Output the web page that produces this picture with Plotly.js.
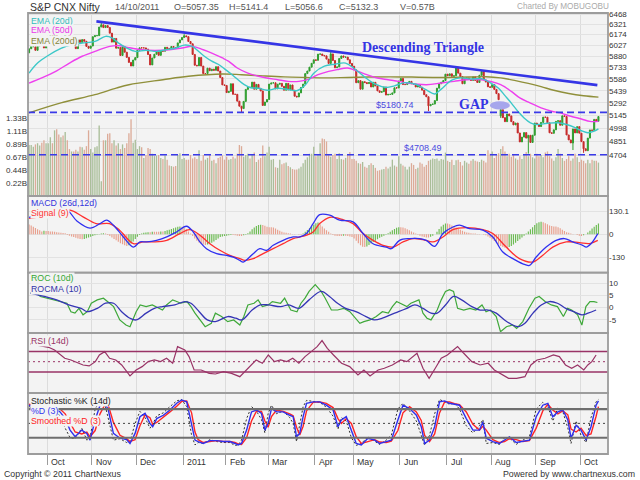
<!DOCTYPE html>
<html><head><meta charset="utf-8">
<script src="https://cdn.plot.ly/plotly-3.0.1.min.js"></script>
<style>html,body{margin:0;padding:0;background:#fff}#chart{width:640px;height:480px}</style>
</head><body><div id="chart"></div>
<script>
// ---------- DATA (trading-day index 0 = 20 Sep 2010 ... 268 = 14 Oct 2011) ----------
const closes = [
5980,6009,6009,5959,6018,6035,6029,5991,6030,
6143,6159,6145,6186,6120,6103,6135,6090,6233,6177,6062,6075,6027,5982,6101,6066,6105,6082,6012,5987,6017,
6145,6160,6160,6281,6312,6273,6301,6275,6194,6071,6121,5988,5998,5890,6010,5934,5865,5799,5752,5830,5862,
5960,5993,5992,5992,5976,5903,5766,5857,5907,5944,5892,5948,5947,6000,5985,5980,6011,5998,5996,6060,6101,6134,
6157,6146,6079,6048,5904,5762,5754,5863,5751,5654,5654,5724,5691,5711,5696,5743,5687,5604,5512,5505,
5417,5432,5526,5396,5396,5313,5253,5225,5310,5456,5482,5481,5546,5458,5518,5469,5437,5262,5303,5333,
5522,5536,5538,5463,5520,5531,5494,5446,5531,5449,5511,5446,5373,5364,5413,5480,5522,5654,5687,5737,5787,5833,
5826,5908,5910,5891,5885,5842,5785,5911,5824,5729,5740,5851,5884,5868,5869,5833,5785,5749,
5702,5539,5565,5459,5552,5541,5528,5541,5486,5544,5499,5438,5420,5428,5486,5387,5395,5395,5413,5476,5473,5560,
5592,5516,5516,5532,5556,5526,5521,5486,5508,5482,5447,5391,5366,5257,5275,5278,5320,5471,5526,5545,5567,5647,
5627,5651,5619,5626,5728,5660,5617,5526,5585,5599,5581,5568,5613,5567,5542,5633,5680,5574,5547,5488,5482,
5516,5456,5404,5331,5212,5119,5073,5162,5139,5073,5036,5057,4945,4846,4899,4949,4888,4919,4840,4920,5057,
5040,5017,5064,5125,5124,5059,4947,4941,4980,5076,5084,5032,5140,5133,4923,4868,4835,4990,4946,5016,4943,
4849,4772,4751,4888,4979,4974,5099,5077,5132];
const openFixIdx = [0, 222];
const openFixVal = [5925, 5140];
const lowFixIdx = [100, 188, 222, 235, 256, 261];
const lowFixVal = [5178, 5196, 5116, 4720, 4758, 4728];
const highFixIdx = [34, 73, 142, 201, 222];
const highFixVal = [6338, 6181, 5944, 5740, 5251];

const volumesB = [
0.87,0.87,0.84,0.88,0.90,0.86,0.91,0.95,0.90,
0.90,1.00,0.90,1.12,1.14,1.05,1.00,1.03,1.09,0.95,0.80,0.76,0.76,0.79,0.76,0.84,0.83,0.79,0.85,1.12,0.80,
0.74,0.83,0.85,1.20,0.25,0.95,0.95,1.06,1.07,0.90,0.95,0.86,0.90,0.80,0.88,0.82,0.90,1.07,1.31,0.91,0.96,
0.80,0.85,0.83,0.65,0.70,0.82,0.80,0.72,0.68,0.69,0.70,0.65,0.63,0.69,0.62,0.52,0.51,0.50,0.51,0.70,0.73,0.63,
0.65,0.62,0.62,0.70,0.64,0.66,0.63,0.78,0.60,0.70,0.62,0.65,0.70,0.60,0.62,0.56,0.65,0.67,0.69,0.62,
0.67,0.62,0.63,0.67,0.64,0.72,0.87,0.85,0.67,0.70,0.72,0.64,0.70,0.74,0.58,0.62,0.65,0.86,0.68,0.74,
0.84,0.62,0.63,0.49,0.48,0.62,0.54,0.56,0.57,0.51,0.49,0.46,0.45,0.45,0.47,0.50,0.56,0.62,0.66,0.72,0.72,0.84,
0.68,0.70,0.90,0.98,0.97,0.93,0.70,0.67,0.70,0.72,0.63,0.73,0.63,0.62,0.65,0.71,0.75,0.63,
0.63,0.60,0.56,0.55,0.58,0.50,0.48,0.53,0.56,0.53,0.48,0.43,0.44,0.45,0.46,0.50,0.47,0.50,0.62,0.52,0.50,0.68,
0.55,0.52,0.50,0.45,0.50,0.56,0.53,0.46,0.48,0.57,0.55,0.50,0.53,0.60,0.62,0.64,0.63,0.64,0.60,0.63,0.62,0.74,
0.60,0.58,0.62,0.53,0.61,0.62,0.58,0.52,0.60,0.57,0.55,0.60,0.63,0.60,0.59,0.58,0.62,0.60,0.57,0.78,0.72,
0.76,0.65,0.70,0.73,0.80,0.85,0.76,0.68,0.72,0.67,0.70,0.64,0.62,0.68,0.63,0.70,0.75,0.68,0.72,0.66,0.64,
0.72,0.68,0.70,0.66,0.74,0.76,0.68,0.64,0.60,0.66,0.80,0.72,0.65,0.60,0.63,0.68,0.60,0.64,0.72,0.66,0.58,
0.62,0.60,0.56,0.62,0.56,0.62,0.60,0.60,0.57];

const ema20X = [0,4,9,15,20,25,31,36,39,42,46,50,55,60,64,69,73,77,80,83,86,89,92,96,100,104,108,112,117,122,126,130,134,139,144,149,153,158,163,168,172,177,182,187,191,194,199,203,208,213,217,221,224,227,230,233,236,239,244,249,253,257,260,263,266,268];
const ema20V = [5661,5790,5890,5985,6035,6058,6080,6150,6130,6060,5990,5945,5960,5945,5965,5990,6030,6010,5940,5870,5815,5775,5715,5630,5540,5480,5470,5445,5470,5455,5440,5510,5660,5750,5775,5790,5720,5610,5520,5480,5500,5540,5520,5450,5400,5460,5570,5600,5585,5590,5540,5470,5380,5290,5195,5115,5060,5040,5055,5060,5040,5005,4970,4948,4965,4990];
const ema50X = [0,6,13,19,25,31,38,43,47,53,59,66,72,77,82,86,91,94,98,103,108,112,117,122,127,131,136,141,145,150,155,159,164,169,174,178,187,194,200,206,213,217,222,227,231,236,241,246,250,255,260,264,268];
const ema50V = [5535,5600,5690,5790,5880,5945,6013,6020,5995,5967,5959,5967,5991,6013,5967,5923,5857,5813,5726,5661,5620,5598,5577,5556,5556,5577,5640,5682,5705,5726,5682,5640,5598,5577,5556,5535,5514,5535,5556,5577,5577,5556,5514,5432,5352,5291,5233,5193,5174,5135,5104,5076,5076];
const ema200X = [0,15,31,41,47,63,75,91,100,110,120,130,140,150,160,170,180,190,197,207,215,222,229,235,241,247,254,261,268];
const ema200V = [5175,5292,5392,5472,5514,5577,5620,5649,5640,5625,5612,5605,5600,5605,5610,5612,5610,5605,5605,5610,5615,5600,5565,5530,5490,5445,5405,5378,5362];

const trendIdx = [31.7, 267.5];
const trendPrice = [6362, 5509];
const supportLevels = [5180.74, 4708.49];
const supportLabelIdx = [172.3, 185.5];

const macdX = [0,6,12,17.8,22.5,28.7,33.4,36.5,39.7,44.4,49.1,52.2,55.4,60,64.8,69.4,74.1,77.3,80.4,83.5,88.3,93,96.1,99.2,100.8,105.5,108.6,111.8,114.9,119.6,124.3,127.4,130.6,133.7,136.8,141.5,146.2,152.5,157.2,161.9,168.1,170.5,174.4,179.1,183.8,187,190.9,194.8,199.5,202.6,207.3,213.6,218.3,223,227.7,232.4,235.5,238.7,243.4,248.1,252,255.9,260.6,262.2,264.5,267.7];
const macdV = [95,112,128,136,75,35,60,79,51,-15,-72,-43,-43,-34,-15,13,45,13,-43,-81,-109,-119,-128,-147,-156,-109,-81,-90,-62,-34,-15,-15,4,60,110,107,79,70,4,-53,-72,-81,-34,-24,-24,-34,-68,4,41,51,32,23,-15,-100,-137,-166,-175,-128,-72,-34,-24,-43,-62,-72,-53,4];
const signalX = [0,6,12,19.3,25.4,31.6,37.9,42.6,49.1,53.8,58.5,64.8,71,75.7,80.4,85.1,89.8,94.5,99.2,101.6,105.5,110.2,114.9,119.6,124.3,129,133.7,136.8,141.5,147.8,152.5,157.2,161.9,166.6,171.3,176,180.7,185.4,190.1,194.8,199.5,205.8,213.6,218.3,224.6,230.8,237.1,241.8,246.5,252.8,259,263.8,267.7];
const signalV = [89,100,118,136,98,60,60,23,-53,-43,-43,-34,4,26,-5,-53,-90,-119,-137,-147,-137,-109,-81,-53,-24,-11,13,60,95,82,60,4,-34,-62,-72,-43,-24,-30,-43,-15,26,37,26,4,-72,-137,-156,-118,-72,-43,-47,-52,-34];
const macdHist = [55,50,42,35,28,22,16,
20,18,18,16,15,14,12,10,8,7,6,
-4,-8,-12,-16,-20,-24,-26,-28,-26,-22,-18,
-14,-10,-6,-2,2,4,6,4,
-4,-10,-18,-26,-34,-42,-50,-56,-62,-66,-62,-52,-40,
-26,-14,-4,4,8,10,12,12,14,14,14,14,16,16,
18,22,26,30,34,38,42,44,42,36,28,
16,4,-10,-24,-36,-46,-54,-58,-60,-58,-54,-48,-40,-32,-24,-16,
-12,-10,-8,-6,-4,-4,-6,-8,-10,-10,-6,-2,6,
16,28,38,46,52,54,52,48,42,40,40,38,32,26,20,
14,10,8,6,4,2,2,0,-2,-2,
4,14,24,34,44,54,62,66,
56,44,32,22,14,
4,-4,-8,-10,-10,-10,-8,-8,-10,-12,-16,
-24,-36,-50,-62,-70,-72,-68,-60,-52,-44,-36,-28,-20,-14,
-8,-2,6,14,22,30,36,40,40,38,34,28,22,16,
10,4,-2,-8,-12,-16,-18,-18,-14,-8,
0,14,30,44,54,60,60,56,50,44,38,32,26,20,14,
10,8,6,4,4,2,2,0,-2,-6,-12,-20,-28,
-38,-48,-58,-66,-72,-76,-76,-72,-66,-58,-48,-38,-28,-18,
-8,4,16,28,40,52,62,68,70,68,62,56,50,46,44,44,40,34,
26,18,12,8,4,2,0,-4,-8,-10,-6,0,
10,20,32,42,52,60];

const rocX = [0.5,3.4,5.3,8.2,11.1,14.9,17.8,19.7,21.6,23.5,25.4,27.4,29.3,32.1,35,36.9,39.8,42.7,45.6,47.5,50.4,52.3,55.1,58,60.9,62.8,64.7,67.6,69.5,71.4,74.3,76.2,78.1,81,82.9,85.8,87.7,90.6,93.5,96.3,99.2,101.1,103,105.9,107.8,109.8,112.6,114.5,118.4,120.3,123.2,126.1,128,129.9,131.8,134.7,137.5,139.4,142.3,145.2,148.1,151,153.8,155.7,157.6,160.5,163.4,166.3,169.1,171,173,175.8,177.8,179.7,181.6,183.5,185.4,187.3,189.2,192.1,194,196,197.9,199.8,201.7,204.6,207.5,210.3,213.2,215.1,217.1,219.9,221.9,224.7,227.6,229.5,232.4,235.3,238.1,240.1,242.9,245.8,248.7,251.5,253.5,255.4,258.2,260.2,262.1,264,265.9,267.5];
const rocV = [6.0,6.0,4.6,3.9,3.2,2.5,1.8,-1.7,-2.3,-0.3,-3.0,-1.7,1.8,3.2,3.9,2.5,0.4,-5.1,-7.2,-7.9,-1.7,1.1,0.4,1.1,-0.3,-1.0,1.1,3.2,2.5,1.8,2.5,0.4,-2.3,-5.8,-7.9,-6.5,-2.3,-3.7,-5.8,-5.1,-7.2,-3.7,1.1,1.8,3.2,0.4,1.1,2.5,1.8,3.9,-1.0,-1.7,1.8,3.9,6.7,9.5,6.7,3.9,-1.0,-1.0,-0.3,-1.7,-4.4,-6.5,-5.8,-5.1,-3.7,-1.7,-2.3,0.4,2.5,1.1,0.4,1.8,2.5,3.2,-2.3,-4.4,-5.1,-1.0,3.2,6.7,7.4,6.7,-0.3,-1.0,-0.3,-1.0,1.1,-1.7,-1.0,-3.7,-10.0,-7.9,-7.2,-8.6,-5.8,-0.3,3.9,4.6,2.5,1.1,0.4,-3.7,-0.3,-1.0,-3.0,-7.2,0.4,2.5,2.5,2.1];
const rocmaX = [0.5,7.2,13,18.7,24.5,27.4,32.1,36,39.8,43.6,47.5,50.4,55.1,59,62.8,68.6,73.3,76.2,80.1,83.9,87.7,93.5,97.3,100.2,105,108.8,112.6,118.4,122.2,127,131.8,137.5,141.4,145.2,149,153.8,158.6,162.4,166.3,170.1,173.9,177.8,181.6,185.4,189.2,192.1,196,199.8,203.6,208.4,212.3,216.1,219.9,223.8,227.6,230.5,233.4,237.2,241.1,244.9,248.7,252.6,256.4,260.2,263.1,266.9];
const rocmaV = [6.0,4.6,3.2,1.1,-0.3,-1.7,-0.3,1.8,1.8,-1.7,-4.4,-5.1,-2.3,-0.3,0.4,1.1,2.5,1.8,-1.7,-5.1,-5.8,-3.7,-4.4,-5.1,-1.0,1.1,1.1,0.4,1.1,-0.3,3.2,6.7,4.6,1.8,-0.3,-1.7,-3.7,-5.1,-4.4,-3.0,-1.7,-0.3,1.1,-0.3,-2.3,-2.3,1.1,4.6,3.2,0.4,-1.0,-1.0,-2.3,-5.1,-7.2,-7.9,-6.5,-2.3,1.1,2.5,1.8,-0.3,-1.7,-3.0,-2.3,-1.0];

const rsiX = [0.5,3.4,6.3,9.2,12,14.9,16.8,19.7,22.6,25.4,28.3,31.2,33.1,35.6,37.9,40.8,43.6,47.5,50.4,53.2,56.1,59,61.9,64.7,67.6,69.9,73.3,75.3,77.7,81,84.8,87.7,91.5,95.3,99.2,102.1,105,106.9,109.8,112.6,115.5,118.4,121.3,124.1,127,129.9,132.8,135.6,137.9,140.4,143.3,147.1,150.9,154.8,157.6,160.5,164.3,167.2,171,174.9,177.8,180.6,182.6,185.4,188.3,191.2,194,196.9,199.8,201.7,204.6,208.4,212.3,216.1,219,221.9,225.7,229.5,233.4,236.2,239.1,242.9,246.8,249.6,252.5,255.4,258.2,261.1,263,264.9,266.9];
const rsiV = [84.4,82.4,79.2,77.9,72.7,63.0,56.6,53.3,48.2,43.6,41.7,50.1,63.0,69.5,56.6,53.3,43.6,22.3,33.9,40.4,50.1,53.3,50.1,56.6,46.9,79.2,72.7,59.8,33.9,33.9,27.4,26.1,30.7,27.4,20.9,33.9,46.9,53.3,46.9,63.0,50.1,53.3,50.1,56.6,46.9,59.8,69.5,79.2,90.9,76.0,63.0,46.9,40.4,24.2,33.9,22.3,33.9,37.2,43.6,53.3,50.1,59.8,66.3,37.2,17.8,37.2,56.6,63.0,72.7,79.2,66.3,50.1,43.6,46.9,33.9,27.4,17.8,17.8,20.9,43.6,53.3,56.6,63.0,59.8,43.6,37.2,43.6,33.9,43.6,50.1,63.0];
const rsiLevels = [70, 30];
const rsiMid = 50;

const stochX = [0,5,10,14.6,17,19.3,21.7,24.8,27.2,28.7,31.1,33.4,35.8,37.3,39.7,42.8,45.9,47.5,49.9,52.2,54.6,56.9,58.2,60.1,63.2,66.3,69.5,71.8,74.2,76.5,78.1,79.6,82,85.1,88.3,91.4,94.5,96.9,98.4,100,102.4,104.7,107.1,109.4,111,112.5,114.1,116.5,119.6,122.7,124.3,125.9,127.4,129,130.6,133.7,136.8,139.9,143.1,145.4,147,149.3,151.7,154,156.4,159.5,162.7,165,168.1,170.5,173.6,176,179.1,182.3,184.6,186.2,188.5,190.9,193.2,195.6,197.9,200.3,202.6,205.8,208.9,212,213.6,215.2,218.3,221.4,223.8,226.1,229.3,232.4,235.5,238.7,241.8,244.2,246.5,248.9,251.2,253.6,255.1,257.5,259.8,262.2,264.5,266.9,268];
const stochK = [85,78,90,65,40,20,18,40,15,20,80,98,88,60,15,18,10,12,50,75,62,40,48,66,72,85,97,100,85,25,5,10,8,16,12,10,10,4,5,15,60,85,75,58,30,70,88,70,76,62,50,12,45,85,98,96,94,84,65,38,62,55,20,4,8,22,12,6,15,25,80,92,76,55,25,4,25,70,100,95,90,92,80,45,30,45,58,8,10,6,20,20,6,15,22,80,94,85,55,82,75,40,8,55,25,10,62,95,100];
const stochD = [88,82,86,74,60,36,22,36,29,15,57,88,92,78,29,19,16,8,29,64,71,50,43,60,67,78,92,99,95,50,15,12,8,14,14,12,12,8,5,8,36,74,78,71,36,50,81,74,74,67,64,22,29,64,92,95,95,88,78,43,57,64,36,8,5,19,15,8,12,15,57,88,81,67,43,8,15,43,95,97,92,90,88,60,36,36,53,19,12,8,15,22,10,13,15,64,88,92,64,74,78,57,19,46,36,15,43,88,97];
const stochSD = [90,85,84,80,70,52,32,28,32,22,35,70,90,88,52,25,18,12,16,45,68,62,48,52,64,74,86,96,97,72,32,16,10,12,14,12,12,10,7,6,20,55,76,75,55,42,64,78,75,70,66,42,26,44,76,94,95,92,83,60,50,60,50,22,8,12,16,11,10,13,35,72,85,74,56,25,12,28,72,95,95,91,89,74,48,36,44,36,16,10,12,18,16,12,14,40,76,90,78,70,76,68,38,32,40,25,28,65,85];
const stochLevels = [80, 20];
const stochMid = 50;

const monthStartIdx = [9,30,51,73,93,113,135,153,175,197,218,239,260];
const monthLabels = ['Oct','Nov','Dec','2011','Feb','Mar','Apr','May','Jun','Jul','Aug','Sep','Oct'];
const priceTicks = [4704,4851,4998,5145,5292,5439,5586,5733,5880,6027,6174,6321,6468];
const volTicks = [0.22,0.44,0.67,0.89,1.11,1.33];
const macdTicks = [130.1,0,-130];
const rocTicks = [10,5,0,-5];

// ---------- BUILD ----------
const FONT = 'Liberation Sans, Arial, sans-serif';
const BG = '#f3f3f3';
const idx = closes.map((_, i) => i);
const opens = closes.map((c, i) => i === 0 ? c : closes[i - 1]);
openFixIdx.forEach((k, j) => { opens[k] = openFixVal[j]; });
const highs = closes.map((c, i) => Math.max(c, opens[i]));
const lows = closes.map((c, i) => Math.min(c, opens[i]));
lowFixIdx.forEach((k, j) => { lows[k] = lowFixVal[j]; });
highFixIdx.forEach((k, j) => { highs[k] = highFixVal[j]; });
const volColors = closes.map((c, i) => c >= opens[i] ? '#a9bd98' : '#dcab98');
const histColors = macdHist.map((h, i) => (i > 0 && h > macdHist[i - 1]) ? '#6cbb52' : '#e8a08e');
const xRange = [-0.5, 272.5];

const traces = [
  {type:'bar', x:idx, y:volumesB, xaxis:'x', yaxis:'y', width:0.62,
   marker:{color:volColors, line:{width:0}}, hoverinfo:'skip'},
  {type:'candlestick', x:idx, open:opens, high:highs, low:lows, close:closes, xaxis:'x', yaxis:'y2',
   whiskerwidth:0,
   increasing:{line:{color:'#2f9e2f', width:1}, fillcolor:'#2f9e2f'},
   decreasing:{line:{color:'#c62a2a', width:1}, fillcolor:'#c62a2a'}, hoverinfo:'skip'},
  {type:'scatter', mode:'lines', x:ema200X, y:ema200V, xaxis:'x', yaxis:'y2', line:{color:'#8f8f3a', width:1.4, shape:'spline'}},
  {type:'scatter', mode:'lines', x:ema50X, y:ema50V, xaxis:'x', yaxis:'y2', line:{color:'#ee3fee', width:1.4, shape:'spline'}},
  {type:'scatter', mode:'lines', x:ema20X, y:ema20V, xaxis:'x', yaxis:'y2', line:{color:'#3cc8c8', width:1.4, shape:'spline'}},
  {type:'scatter', mode:'lines', x:trendIdx, y:trendPrice, xaxis:'x', yaxis:'y2', line:{color:'#3535e6', width:2.6}},
];
supportLevels.forEach(lv => traces.push({type:'scatter', mode:'lines', x:xRange, y:[lv, lv], xaxis:'x', yaxis:'y2',
  line:{color:'#3a3ae8', width:1.6, dash:'7px,4px'}}));
traces.push(
  {type:'bar', x:idx, y:macdHist, xaxis:'x', yaxis:'y3', width:0.55, marker:{color:histColors, line:{width:0}}},
  {type:'scatter', mode:'lines', x:signalX, y:signalV, xaxis:'x', yaxis:'y3', line:{color:'#ff2f2f', width:1.3, shape:'spline'}},
  {type:'scatter', mode:'lines', x:macdX, y:macdV, xaxis:'x', yaxis:'y3', line:{color:'#3030f0', width:1.3, shape:'spline'}},
  {type:'scatter', mode:'lines', x:rocX, y:rocV, xaxis:'x', yaxis:'y4', line:{color:'#3fa83a', width:1.2}},
  {type:'scatter', mode:'lines', x:rocmaX, y:rocmaV, xaxis:'x', yaxis:'y4', line:{color:'#3535b5', width:1.3, shape:'spline'}},
  {type:'scatter', mode:'lines', x:rsiX, y:rsiV, xaxis:'x', yaxis:'y5', line:{color:'#993366', width:1.2}},
  {type:'scatter', mode:'lines', x:stochX, y:stochK, xaxis:'x', yaxis:'y6', line:{color:'#333', width:1, dash:'2px,2px'}},
  {type:'scatter', mode:'lines', x:stochX, y:stochSD, xaxis:'x', yaxis:'y6', line:{color:'#ff2525', width:1.4}},
  {type:'scatter', mode:'lines', x:stochX, y:stochD, xaxis:'x', yaxis:'y6', line:{color:'#2f2fee', width:1.4}}
);

const panels = [[0.585,1],[0.4115,0.585],[0.2744,0.4115],[0.1383,0.2744],[0,0.1383]];
const shapes = [];
rsiLevels.forEach(v => shapes.push({type:'line', xref:'paper', x0:0, x1:1, yref:'y5', y0:v, y1:v, line:{color:'#993366', width:1.5}}));
shapes.push({type:'line', xref:'paper', x0:0, x1:1, yref:'y5', y0:rsiMid, y1:rsiMid, line:{color:'#993366', width:1, dash:'2px,3px'}});
stochLevels.forEach(v => shapes.push({type:'line', xref:'paper', x0:0, x1:1, yref:'y6', y0:v, y1:v, line:{color:'#6e6e6e', width:2.2}}));
shapes.push({type:'line', xref:'paper', x0:0, x1:1, yref:'y6', y0:stochMid, y1:stochMid, line:{color:'#444', width:1, dash:'2px,3px'}});
panels.forEach(d => shapes.push({type:'rect', xref:'paper', yref:'paper', x0:0, x1:1, y0:d[0], y1:d[1], line:{color:'#9c9c9c', width:1.8}, fillcolor:'rgba(0,0,0,0)'}));
const py = p => 1 - (p - 13) / 441;
const pxp = p => (p - 28) / 580;
shapes.push({type:'circle', xref:'x', yref:'paper', x0:216.9, x1:226.3, y0:py(109.5), y1:py(101.3), fillcolor:'#a6a6ec', line:{width:0}});

function txt(text, xpx, ypx, color, size, opts) {
  return Object.assign({text, xref:'paper', yref:'paper', x:pxp(xpx), y:py(ypx), xanchor:'left', yanchor:'middle',
    showarrow:false, font:{family:FONT, size:size, color:color}}, opts || {});
}
const legendBox = {bgcolor:BG, borderpad:0};
const annotations = [
  txt('S&amp;P CNX Nifty', 28, 6.5, '#333', 10.5),
  txt('14/10/2011', 113, 6.5, '#555', 9),
  txt('O=5057.35', 172, 6.5, '#555', 9),
  txt('H=5141.4', 227, 6.5, '#555', 9),
  txt('L=5056.6', 283, 6.5, '#555', 9),
  txt('C=5132.3', 337, 6.5, '#555', 9),
  txt('V=0.57B', 398, 6.5, '#555', 9),
  txt('Charted By MOBUGOBU', 515, 6, '#aaaaaa', 8.2),
  txt('EMA (20d)', 30, 20.5, '#33bcbc', 8.8, legendBox),
  txt('EMA (50d)', 30, 30.5, '#ea38ea', 8.8, legendBox),
  txt('EMA (200d)', 30, 40.5, '#85853a', 8.8, legendBox),
  txt('MACD (26d,12d)', 30, 203, '#3333dd', 8.8, legendBox),
  txt('Signal (9)', 30, 213, '#ff3333', 8.8, legendBox),
  txt('ROC (10d)', 30, 277.5, '#33a833', 8.8, legendBox),
  txt('ROCMA (10)', 30, 288.5, '#3333aa', 8.8, legendBox),
  txt('RSI (14d)', 30, 340.5, '#993366', 8.8, legendBox),
  txt('Stochastic %K (14d)', 30, 400.5, '#222', 8.8, legendBox),
  txt('%D (3)', 30, 410.5, '#3333ee', 8.8, legendBox),
  txt('Smoothed %D (3)', 30, 420.5, '#ff2222', 8.8, legendBox),
  txt('Copyright © 2011 ChartNexus', 2, 474, '#333', 8.8),
  txt('Powered by www.chartnexus.com', 637, 474, '#333', 8.8, {xanchor:'right'}),
  {text:'<b>Descending Triangle</b>', xref:'x', yref:'y2', x:185.4, y:Math.log10(6004), showarrow:false,
   font:{family:'Liberation Serif, Times New Roman, serif', size:14, color:'#3434e4'}},
  {text:'<b>GAP</b>', xref:'x', yref:'y2', x:209.4, y:Math.log10(5279), showarrow:false,
   font:{family:'Liberation Serif, Times New Roman, serif', size:14, color:'#3434e4'}}
];
supportLevels.forEach((lv, j) => annotations.push({text:'$' + lv.toFixed(2), xref:'x', yref:'y2', x:supportLabelIdx[j],
  y:Math.log10(lv), yanchor:'bottom', yshift:0, showarrow:false, font:{family:FONT, size:9, color:'#4a4ae0'}}));
monthStartIdx.forEach((m, j) => annotations.push({text:monthLabels[j], xref:'x', yref:'paper', x:m - 0.5, y:py(462),
  xanchor:'left', yanchor:'middle', xshift:2, showarrow:false, font:{family:FONT, size:8.8, color:'#333'}}));

const axBase = {fixedrange:true, zeroline:false, ticks:'', tickfont:{family:FONT, size:8, color:'#333'}, showline:false};
const layout = {
  width:640, height:480, margin:{l:28, r:32, t:13, b:26},
  paper_bgcolor:'#ffffff', plot_bgcolor:BG, showlegend:false,
  font:{family:FONT, size:8, color:'#333'},
  xaxis:Object.assign({}, axBase, {range:xRange, anchor:'y6', tickmode:'array', tickvals:monthStartIdx.map(m => m - 0.5),
    showticklabels:false, ticks:'outside', ticklen:10, tickcolor:'#9c9c9c', showgrid:true, gridcolor:'#dcdcdc', gridwidth:1,
    rangeslider:{visible:false}}),
  yaxis:Object.assign({}, axBase, {domain:panels[0], range:[0, 3.12], side:'left', tickmode:'array', tickvals:volTicks,
    ticktext:volTicks.map(v => v.toFixed(2) + 'B'), showgrid:false}),
  yaxis2:Object.assign({}, axBase, {overlaying:'y', anchor:'x', type:'log', range:[Math.log10(4289), Math.log10(6483)], side:'right',
    tickmode:'array', tickvals:priceTicks, ticktext:priceTicks.map(String), showgrid:true, gridcolor:'#e2e2e2'}),
  yaxis3:Object.assign({}, axBase, {domain:panels[1], anchor:'x', range:[-215, 215], side:'right', tickmode:'array',
    tickvals:macdTicks, ticktext:macdTicks.map(String), showgrid:true, gridcolor:'#e2e2e2'}),
  yaxis4:Object.assign({}, axBase, {domain:panels[2], anchor:'x', range:[-10.5, 14.5], side:'right', tickmode:'array',
    tickvals:rocTicks, ticktext:rocTicks.map(String), showgrid:true, gridcolor:'#e2e2e2'}),
  yaxis5:Object.assign({}, axBase, {domain:panels[3], anchor:'x', range:[-10.8, 105.7], showticklabels:false, showgrid:false}),
  yaxis6:Object.assign({}, axBase, {domain:panels[4], anchor:'x', range:[-14, 113.5], showticklabels:false, showgrid:false}),
  shapes, annotations
};
Plotly.newPlot('chart', traces, layout, {staticPlot:true, displayModeBar:false});
</script></body></html>
